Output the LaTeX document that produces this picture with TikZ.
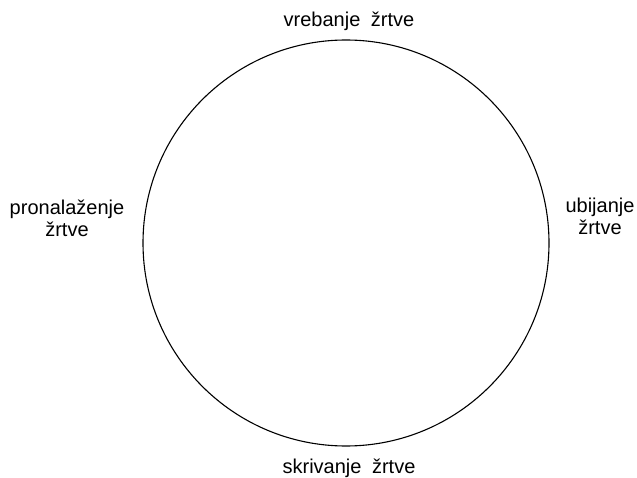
\documentclass[tikz,border=0pt]{standalone}
\usepackage{fontspec}
\setmainfont{Liberation Sans}
\begin{document}
\begin{tikzpicture}[x=1pt,y=-1pt,
  lbl/.style={font=\fontsize{20}{22.5}\selectfont, inner sep=0pt, align=center}]
\useasboundingbox (0,0) rectangle (637,478);
\node[draw, circle, line width=1.1pt, minimum size=406pt, inner sep=0pt] (c) at (346,243) {};
\node[lbl, anchor=base] (top) at (349,27) {vrebanje\hspace{5pt} žrtve};
\node[lbl, anchor=base] (bot) at (349,473) {skrivanje\hspace{5pt} žrtve};
\node[lbl, anchor=base] (left) at (67,237) {pronalaženje\\žrtve};
\node[lbl, anchor=base] (right) at (600,235) {ubijanje\\žrtve};
\end{tikzpicture}
\end{document}
